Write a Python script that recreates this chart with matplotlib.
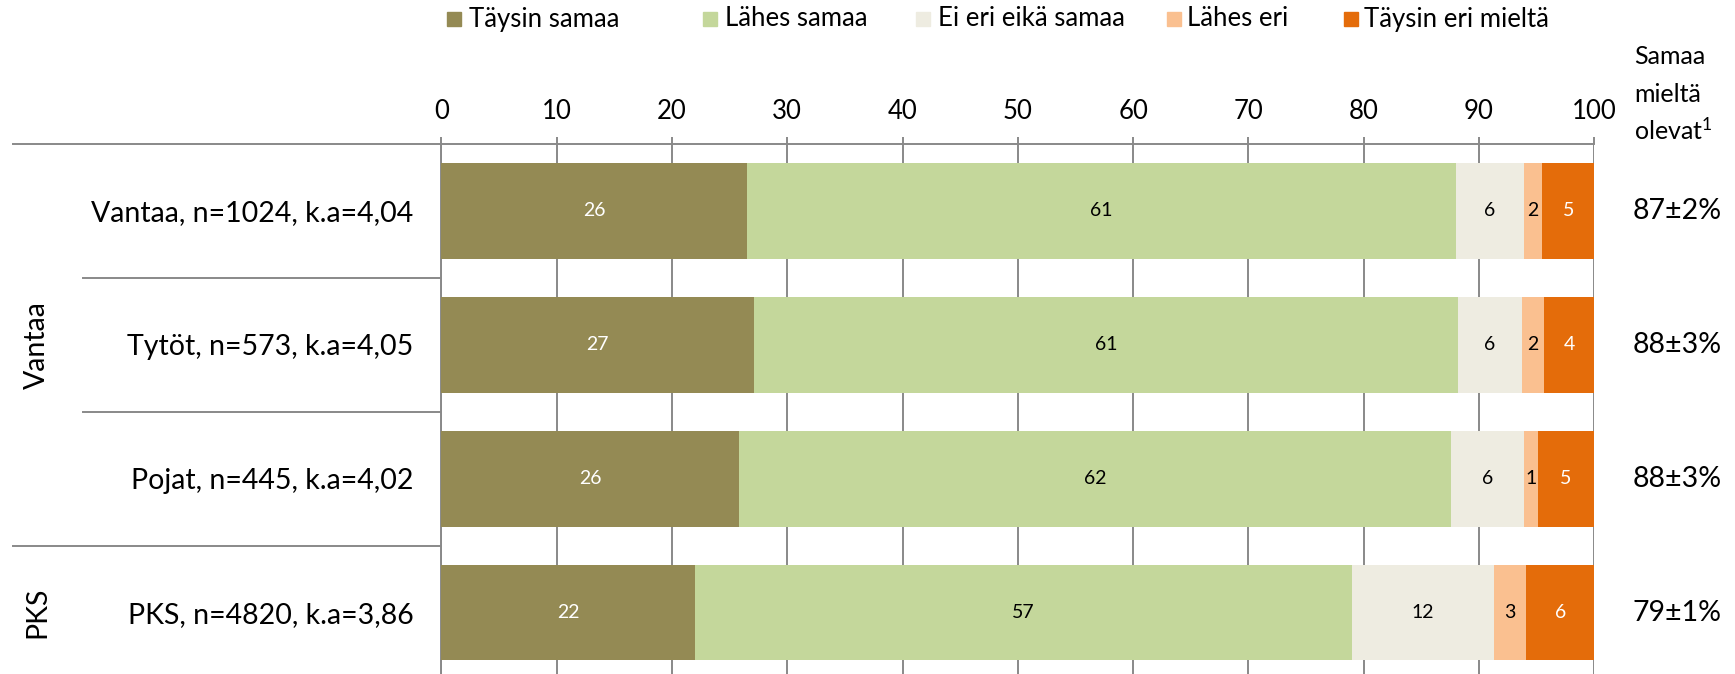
import matplotlib
matplotlib.use("Agg")
import matplotlib.pyplot as plt
from matplotlib.patches import Rectangle

# ---------------- data ----------------
categories = ["Vantaa, n=1024, k.a=4,04", "Tytöt, n=573, k.a=4,05",
              "Pojat, n=445, k.a=4,02", "PKS, n=4820, k.a=3,86"]
groups = ["Vantaa", "PKS"]
group_first = [0, 3]
group_last = [2, 3]
series_names = ["Täysin samaa", "Lähes samaa", "Ei eri eikä samaa", "Lähes eri", "Täysin eri mieltä"]

taysin_samaa = [26.5, 27.1, 25.8, 22.0]
lahes_samaa = [61.5, 61.1, 61.8, 57.0]
ei_eri_eika_samaa = [5.9, 5.5, 6.3, 12.3]
lahes_eri = [1.6, 1.9, 1.2, 2.8]
taysin_eri = [4.5, 4.4, 4.9, 5.9]

lbl_taysin_samaa = ["26", "27", "26", "22"]
lbl_lahes_samaa = ["61", "61", "62", "57"]
lbl_ei_eri = ["6", "6", "6", "12"]
lbl_lahes_eri = ["2", "2", "1", "3"]
lbl_taysin_eri = ["5", "4", "5", "6"]

agree_labels = ["87±2%", "88±3%", "88±3%", "79±1%"]
agree_header = ["Samaa", "mieltä", r"olevat$^{\mathrm{1}}$"]
x_ticks = [0, 10, 20, 30, 40, 50, 60, 70, 80, 90, 100]

# ---------------- style ----------------
colors = ["#948A54", "#C4D79B", "#EEECE1", "#FAC090", "#E46C0A"]
text_colors = ["white", "black", "black", "black", "white"]
grid_col = "#898989"
FONT = "Lato"
plt.rcParams["font.family"] = [FONT, "DejaVu Sans"]
plt.rcParams["mathtext.fontset"] = "custom"
plt.rcParams["mathtext.rm"] = FONT
plt.rcParams["mathtext.it"] = FONT
plt.rcParams["mathtext.bf"] = FONT

W, H = 1735, 674
fig = plt.figure(figsize=(W / 100, H / 100), dpi=100)
x0_px, x1_px, top_px = 441.3, 1594.3, 143.9
pitch_px = 133.9
ax = fig.add_axes([x0_px / W, 0, (x1_px - x0_px) / W, (H - top_px) / H])

series = [taysin_samaa, lahes_samaa, ei_eri_eika_samaa, lahes_eri, taysin_eri]
labels = [lbl_taysin_samaa, lbl_lahes_samaa, lbl_ei_eri, lbl_lahes_eri, lbl_taysin_eri]
ypos = list(range(len(categories)))
left = [0.0] * len(categories)
for vals, lbls, col, tcol, name in zip(series, labels, colors, text_colors, series_names):
    bars = ax.barh(ypos, vals, left=left, height=0.715, color=col, zorder=3, label=name)
    for b, l in zip(bars, lbls):
        ax.text(b.get_x() + b.get_width() / 2, b.get_y() + b.get_height() / 2, l,
                ha="center", va="center", color=tcol, fontsize=14, zorder=4)
    left = [a + v for a, v in zip(left, vals)]

ax.set_xlim(0, 100)
ax.set_ylim(-0.5 + (H - top_px) / pitch_px, -0.5)
ax.set_xticks(x_ticks)
ax.xaxis.tick_top()
ax.tick_params(axis="x", direction="out", length=5, width=1.4, color=grid_col,
               pad=9, labelsize=18.5)
ax.set_yticks(ypos)
ax.set_yticklabels(categories)
ax.tick_params(axis="y", length=0, pad=20, labelsize=20.5)
ax.xaxis.grid(True, color=grid_col, lw=1.4, zorder=0)
ax.set_axisbelow(True)
for s in ["right", "bottom"]:
    ax.spines[s].set_visible(False)
for s in ["top", "left"]:
    ax.spines[s].set_color(grid_col)
    ax.spines[s].set_linewidth(1.4)

# category separators on the left
tr = ax.get_yaxis_transform()
far = (13 - x0_px) / (x1_px - x0_px)
near = (83 - x0_px) / (x1_px - x0_px)
bounds = [-0.5, 0.5, 1.5, 2.5]
starts = [far, near, near, far]
for b, s in zip(bounds, starts):
    ax.plot([s, 0], [b, b], transform=tr, color=grid_col, lw=1.4, clip_on=False)

# group labels
gx = (37 - x0_px) / (x1_px - x0_px)
for g, a, b in zip(groups, group_first, group_last):
    ax.text(gx, (a + b) / 2, g, transform=tr, rotation=90, ha="center", va="center", fontsize=20.5)

# right column
rx = (1633 - x0_px) / (x1_px - x0_px)
for y, t in zip(ypos, agree_labels):
    ax.text(rx, y, t, transform=tr, ha="left", va="center", fontsize=20.5)
hdr_base = [64, 102, 140]
for yy, t in zip(hdr_base, agree_header):
    fig.text(1634 / W, 1 - yy / H, t, ha="left", va="baseline", fontsize=18)

# legend (manual, as in source)
sq_x = [447, 703, 916, 1167, 1344]
tx_x = [469, 725, 938, 1187, 1364]
ly = 19
for sx, tx, col, name in zip(sq_x, tx_x, colors, series_names):
    fig.add_artist(Rectangle((sx / W, 1 - (ly + 7) / H), 14 / W, 14 / H,
                             transform=fig.transFigure, color=col))
    fig.text(tx / W, 1 - ly / H, name, ha="left", va="center", fontsize=18.5)

fig.savefig("out.png", dpi=100)
